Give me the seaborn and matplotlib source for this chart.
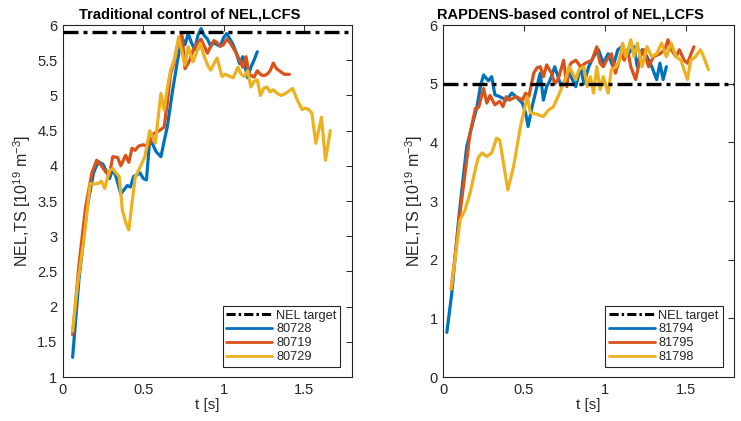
import numpy as np
import pandas as pd
import matplotlib
matplotlib.use("Agg")
import matplotlib.pyplot as plt
from matplotlib.lines import Line2D
from matplotlib.ticker import FormatStrFormatter, MultipleLocator
import seaborn as sns

# ---- Traditional control (shots 80728, 80719, 80729) ----
shots_left = ["80728", "80719", "80729"]
target_left = 5.9

t_80728 = [0.06, 0.10, 0.15, 0.19, 0.22, 0.25, 0.27, 0.29, 0.31, 0.33, 0.36, 0.38, 0.40, 0.42,
           0.44, 0.46, 0.48, 0.50, 0.52, 0.54, 0.56, 0.58, 0.61, 0.63, 0.65, 0.68, 0.71, 0.74,
           0.76, 0.78, 0.80, 0.82, 0.84, 0.86, 0.88, 0.90, 0.92, 0.94, 0.96, 0.98, 1.00, 1.02,
           1.04, 1.06, 1.08, 1.10, 1.12, 1.15, 1.17, 1.19, 1.21]
n_80728 = [1.28, 2.4, 3.4, 3.9, 4.06, 4.02, 3.92, 3.82, 3.95, 3.85, 3.6, 3.66, 3.72, 3.7,
           3.85, 3.87, 3.9, 3.82, 3.8, 4.37, 4.3, 4.2, 4.13, 4.35, 4.56, 5.03, 5.45, 5.83,
           5.72, 5.88, 5.75, 5.65, 5.85, 5.95, 5.85, 5.8, 5.7, 5.75, 5.72, 5.7, 5.82, 5.88,
           5.8, 5.72, 5.6, 5.45, 5.55, 5.25, 5.4, 5.5, 5.62]

t_80719 = [0.06, 0.10, 0.14, 0.18, 0.21, 0.24, 0.27, 0.29, 0.31, 0.34, 0.36, 0.39, 0.41, 0.43,
           0.45, 0.47, 0.50, 0.53, 0.56, 0.60, 0.63, 0.65, 0.67, 0.69, 0.71, 0.74, 0.76, 0.79,
           0.81, 0.84, 0.86, 0.88, 0.90, 0.92, 0.94, 0.96, 0.98, 1.00, 1.02, 1.04, 1.07, 1.09,
           1.12, 1.14, 1.16, 1.19, 1.21, 1.23, 1.25, 1.27, 1.29, 1.31, 1.33, 1.36, 1.38, 1.41]
n_80719 = [1.6, 2.6, 3.4, 3.9, 4.08, 4.0, 3.9, 3.88, 4.13, 4.12, 4.0, 4.15, 4.05, 4.25,
           4.22, 4.28, 4.3, 4.27, 4.45, 4.5, 4.55, 4.9, 5.3, 5.46, 5.69, 5.88, 5.38, 5.5,
           5.64, 5.75, 5.8, 5.7, 5.6, 5.7, 5.78, 5.75, 5.7, 5.72, 5.8, 5.75, 5.64, 5.55,
           5.4, 5.55, 5.3, 5.26, 5.35, 5.3, 5.28, 5.3, 5.35, 5.46, 5.38, 5.33, 5.3, 5.3]

t_80729 = [0.06, 0.09, 0.13, 0.17, 0.19, 0.22, 0.24, 0.26, 0.29, 0.31, 0.33, 0.35, 0.37, 0.39,
           0.41, 0.43, 0.45, 0.48, 0.51, 0.54, 0.575, 0.61, 0.63, 0.65, 0.67, 0.70, 0.72, 0.76,
           0.78, 0.81, 0.83, 0.856, 0.88, 0.905, 0.92, 0.94, 0.96, 0.99, 1.01, 1.04, 1.06, 1.09,
           1.11, 1.13, 1.15, 1.17, 1.19, 1.21, 1.23, 1.25, 1.27, 1.29, 1.31, 1.34, 1.36, 1.38,
           1.40, 1.43, 1.46, 1.49, 1.51, 1.53, 1.55, 1.575, 1.61, 1.635, 1.665]
n_80729 = [1.65, 2.3, 2.95, 3.75, 3.74, 3.75, 3.78, 3.68, 3.94, 3.96, 3.9, 3.85, 3.37, 3.2,
           3.09, 3.47, 3.84, 3.98, 4.13, 4.5, 4.32, 5.03, 4.79, 5.1, 5.36, 5.55, 5.83, 5.43,
           5.69, 5.48, 5.6, 5.74, 5.55, 5.41, 5.36, 5.45, 5.53, 5.27, 5.3, 5.27, 5.25, 5.4,
           5.3, 5.27, 5.35, 5.12, 5.2, 5.22, 5.0, 5.1, 5.12, 5.05, 5.08, 5.02, 5.0, 5.02,
           5.05, 5.1, 4.93, 4.8, 4.82, 4.8, 4.75, 4.32, 4.69, 4.08, 4.5]

# ---- RAPDENS-based control (shots 81794, 81795, 81798) ----
shots_right = ["81794", "81795", "81798"]
target_right = 5.0

t_81794 = [0.023, 0.054, 0.10, 0.146, 0.18, 0.21, 0.23, 0.25, 0.28, 0.30, 0.32, 0.35, 0.39,
           0.425, 0.45, 0.49, 0.51, 0.525, 0.55, 0.58, 0.60, 0.62, 0.64, 0.66, 0.69, 0.73,
           0.755, 0.78, 0.82, 0.85, 0.87, 0.90, 0.93, 0.96, 0.99, 1.02, 1.05, 1.08, 1.11,
           1.13, 1.18, 1.20, 1.23, 1.26, 1.29, 1.32, 1.34, 1.36, 1.38]
n_81794 = [0.76, 1.44, 2.8, 3.93, 4.3, 4.61, 4.95, 5.15, 5.05, 5.12, 4.81, 4.78, 4.72,
           4.84, 4.78, 4.67, 4.5, 4.27, 4.61, 4.95, 5.18, 4.72, 4.95, 5.05, 5.29, 4.95,
           5.07, 5.18, 4.95, 5.29, 5.0, 5.29, 5.46, 5.58, 5.35, 5.51, 5.29, 5.58, 5.64,
           5.46, 5.63, 5.29, 5.58, 5.46, 5.29, 5.07, 5.35, 5.07, 5.29]

t_81795 = [0.05, 0.10, 0.167, 0.20, 0.22, 0.25, 0.27, 0.29, 0.32, 0.35, 0.37, 0.39, 0.41,
           0.45, 0.49, 0.51, 0.53, 0.56, 0.58, 0.60, 0.62, 0.64, 0.67, 0.69, 0.71, 0.745,
           0.765, 0.78, 0.79, 0.82, 0.85, 0.88, 0.92, 0.95, 0.97, 0.99, 1.01, 1.04, 1.065,
           1.10, 1.12, 1.14, 1.16, 1.19, 1.22, 1.24, 1.27, 1.30, 1.34, 1.37, 1.39, 1.41,
           1.44, 1.46, 1.49, 1.51, 1.55]
n_81795 = [1.5, 2.7, 4.16, 4.58, 4.6, 4.92, 4.67, 4.8, 4.64, 4.7, 4.61, 4.78, 4.72,
           4.78, 4.72, 4.84, 4.78, 5.18, 5.27, 5.29, 5.12, 5.32, 5.18, 5.0, 5.07, 5.4,
           4.95, 5.29, 5.35, 5.4, 5.29, 5.35, 5.4, 5.63, 5.35, 5.29, 5.4, 5.51, 5.18,
           5.51, 5.4, 5.58, 5.29, 5.07, 5.46, 5.58, 5.29, 5.46, 5.51, 5.58, 5.75, 5.58,
           5.46, 5.58, 5.4, 5.35, 5.63]

t_81798 = [0.05, 0.105, 0.136, 0.167, 0.198, 0.217, 0.24, 0.27, 0.30, 0.33, 0.35, 0.40,
           0.435, 0.48, 0.52, 0.54, 0.58, 0.62, 0.65, 0.68, 0.71, 0.755, 0.78, 0.82, 0.84,
           0.87, 0.89, 0.91, 0.93, 0.95, 0.97, 0.99, 1.02, 1.04, 1.07, 1.09, 1.11, 1.13,
           1.16, 1.18, 1.20, 1.23, 1.26, 1.29, 1.32, 1.35, 1.38, 1.41, 1.44, 1.47, 1.51,
           1.53, 1.56, 1.59, 1.61, 1.64]
n_81798 = [1.5, 2.68, 2.85, 3.14, 3.53, 3.74, 3.82, 3.76, 3.82, 4.07, 4.04, 3.19,
           3.58, 4.3, 4.78, 4.5, 4.48, 4.44, 4.55, 4.6, 4.78, 5.07, 5.29, 5.07, 5.24,
           5.29, 4.95, 5.12, 4.84, 5.29, 4.9, 5.12, 4.84, 5.24, 5.29, 5.4, 5.69, 5.46,
           5.75, 5.46, 5.69, 5.29, 5.63, 5.46, 5.51, 5.69, 5.46, 5.69, 5.46, 5.4, 5.07,
           5.4, 5.46, 5.58, 5.46, 5.24]

colors = ["#0072BD", "#D95319", "#EDB120"]
ylabel = r"NEL,TS [10$^{19}$ m$^{-3}$]"


def long_frame(shots, times, values):
    parts = [pd.DataFrame({"t": t, "nel": v, "shot": s})
             for s, t, v in zip(shots, times, values)]
    return pd.concat(parts, ignore_index=True)


df_left = long_frame(shots_left, [t_80728, t_80719, t_80729],
                     [n_80728, n_80719, n_80729])
df_right = long_frame(shots_right, [t_81794, t_81795, t_81798],
                      [n_81794, n_81795, n_81798])

sns.set_theme(style="white")
plt.rcParams["font.family"] = ["Liberation Sans", "DejaVu Sans"]
plt.rcParams["mathtext.fontset"] = "custom"
plt.rcParams["mathtext.rm"] = "Liberation Sans"
plt.rcParams["mathtext.it"] = "Liberation Sans"

fig = plt.figure(figsize=(7.41, 4.21), dpi=100)
ax1 = fig.add_axes([0.085, 0.1045, 0.390, 0.836])
ax2 = fig.add_axes([0.598, 0.1045, 0.393, 0.836])

dark = "#262626"


def draw_panel(ax, df, shots, target, title, ylim, ystep):
    ax.axhline(target, color="black", lw=2.4, ls=(0, (4.5, 1.5, 1.2, 1.5)), zorder=3)
    sns.lineplot(data=df, x="t", y="nel", hue="shot", hue_order=shots,
                 palette=colors, estimator=None, sort=False, lw=2.3,
                 legend=False, ax=ax, zorder=2)
    ax.set_xlim(0, 1.8)
    ax.set_ylim(*ylim)
    ax.xaxis.set_major_locator(MultipleLocator(0.5))
    ax.yaxis.set_major_locator(MultipleLocator(ystep))
    ax.xaxis.set_major_formatter(FormatStrFormatter("%g"))
    ax.yaxis.set_major_formatter(FormatStrFormatter("%g"))
    ax.tick_params(direction="in", length=4, width=0.7, colors=dark,
                   labelsize=10.5, top=True, right=True, pad=4)
    for sp in ax.spines.values():
        sp.set_color(dark)
        sp.set_linewidth(0.8)
    ax.set_xlabel("t [s]", fontsize=11, color=dark, labelpad=1)
    ax.set_ylabel(ylabel, fontsize=11.5, color=dark, labelpad=3)
    ax.set_title(title, fontsize=10.5, fontweight="bold", color="black",
                 x=0.438, pad=5)

    handles = [Line2D([], [], color="black", lw=2.2, ls=(0, (3.0, 1.0, 0.8, 1.0)))]
    handles += [Line2D([], [], color=c, lw=2.0) for c in colors]
    labels = ["NEL target"] + shots
    leg = ax.legend(handles, labels, loc="lower right", bbox_to_anchor=(0.96, 0.028),
                    borderaxespad=0, fontsize=9.2, handlelength=3.6, handletextpad=0.3,
                    labelspacing=0.15, borderpad=0.3, fancybox=False, framealpha=1,
                    edgecolor=dark)
    leg.get_frame().set_linewidth(0.8)


draw_panel(ax1, df_left, shots_left, target_left,
           "Traditional control of NEL,LCFS", (1, 6), 0.5)
draw_panel(ax2, df_right, shots_right, target_right,
           "RAPDENS-based control of NEL,LCFS", (0, 6), 1)

fig.savefig("out.png", dpi=100)
